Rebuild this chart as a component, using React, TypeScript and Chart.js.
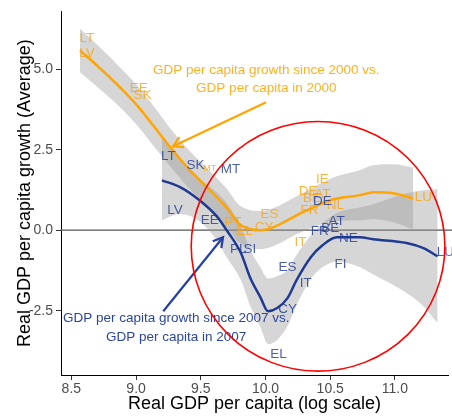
import { useEffect, useRef } from 'react';
import { Chart, registerables } from 'chart.js';

Chart.register(...registerables);

const FONT = '"Liberation Sans", Arial, sans-serif';

// smoothed fit, growth since 2000 vs GDP in 2000
const fit2000X = [8.567, 8.722, 8.876, 9.008, 9.131, 9.263, 9.417, 9.572, 9.704, 9.789, 9.859, 9.959, 10.059, 10.244, 10.368, 10.523, 10.731, 10.831, 10.986, 11.14];
const fit2000Y = [5.59, 5.03, 4.44, 3.88, 3.26, 2.58, 1.86, 1.24, 0.68, 0.22, 0.06, 0.0, 0.09, 0.47, 0.71, 0.96, 1.09, 1.18, 1.15, 0.99];
const band2000Lo = [4.91, 4.38, 3.82, 3.26, 2.64, 1.99, 1.27, 0.65, 0.09, -0.37, -0.53, -0.59, -0.5, -0.12, 0.09, 0.28, 0.31, 0.34, 0.25, 0.03];
const band2000Hi = [6.27, 5.68, 5.06, 4.5, 3.88, 3.17, 2.45, 1.83, 1.27, 0.81, 0.65, 0.59, 0.68, 1.06, 1.33, 1.64, 1.87, 2.02, 2.05, 1.95];

// smoothed fit, growth since 2007 vs GDP in 2007
const fit2007X = [9.2, 9.34, 9.49, 9.63, 9.7, 9.81, 9.88, 9.96, 10.02, 10.09, 10.17, 10.24, 10.35, 10.44, 10.55, 10.73, 10.83, 11.09, 11.22, 11.33];
const fit2007Y = [1.55, 1.34, 0.93, 0.4, 0.0, -0.71, -1.46, -2.08, -2.52, -2.42, -2.11, -1.55, -0.84, -0.47, -0.22, -0.22, -0.28, -0.4, -0.56, -0.81];
const band2007Lo = [0.31, 0.5, 0.28, -0.35, -0.84, -1.55, -2.33, -3.01, -3.54, -3.41, -2.98, -2.33, -1.52, -1.15, -0.97, -1.15, -1.37, -1.95, -2.36, -2.89];
const band2007Hi = [2.95, 2.27, 1.6, 1.15, 0.84, 0.13, -0.59, -1.15, -1.5, -1.43, -1.24, -0.77, -0.16, 0.21, 0.53, 0.71, 0.81, 1.15, 1.24, 1.27];

// country labels
const codes2000 = ['LT', 'LV', 'EE', 'SK', 'PT', 'EL', 'CY', 'ES', 'IT', 'DE', 'BE', 'AT', 'FR', 'NL', 'IE', 'LU'];
const labelX2000 = [8.62, 8.62, 9.02, 9.05, 9.75, 9.84, 9.99, 10.03, 10.27, 10.33, 10.36, 10.44, 10.34, 10.54, 10.44, 11.22];
const labelY2000 = [5.95, 5.5, 4.41, 4.19, 0.25, -0.03, 0.09, 0.5, -0.37, 1.21, 1.0, 1.12, 0.62, 0.78, 1.58, 1.02];
const tinyCode2000 = 'MT';
const tinyX2000 = 9.57;
const tinyY2000 = 1.92;

const codes2007 = ['LT', 'SK', 'MT', 'LV', 'EE', 'PL', 'SI', 'ES', 'IT', 'CY', 'EL', 'FI', 'FR', 'BE', 'AT', 'NE', 'DE', 'LU'];
const labelX2007 = [9.25, 9.46, 9.73, 9.3, 9.57, 9.79, 9.88, 10.17, 10.31, 10.17, 10.1, 10.58, 10.42, 10.5, 10.55, 10.64, 10.44, 11.39];
const labelY2007 = [2.3, 2.02, 1.9, 0.62, 0.31, -0.59, -0.59, -1.15, -1.65, -2.45, -3.85, -1.06, -0.03, 0.06, 0.28, -0.25, 0.9, -0.68];

// annotations
const note2000 = ['GDP per capita growth since 2000 vs.', 'GDP per capita in 2000'];
const note2000At = { x: 10.006, y: [4.97, 4.41] };
const arrow2000 = { from: [10.005, 3.98], to: [9.286, 2.61] };
const note2007 = ['GDP per capita growth since 2007 vs.', 'GDP per capita in 2007'];
const note2007At = { x: 9.31, y: [-2.73, -3.32] };
const arrow2007 = { from: [9.21, -2.52], to: [9.672, -0.22] };
const ring = { cx: 10.406, cy: -0.5, rx: 0.98, ry: 3.88 };

const ORANGE = '#FFA500';
const BLUE = '#1f3a93';

const pts = (xs: number[], ys: number[]) => xs.map((x, i) => ({ x, y: ys[i] }));

function arrow(ctx: CanvasRenderingContext2D, x1: number, y1: number, x2: number, y2: number, color: string) {
  ctx.strokeStyle = color;
  ctx.lineWidth = 2.2;
  ctx.lineCap = 'butt';
  ctx.beginPath();
  ctx.moveTo(x1, y1);
  ctx.lineTo(x2, y2);
  ctx.stroke();
  const a = Math.atan2(y2 - y1, x2 - x1);
  const len = 11;
  const w = Math.PI / 6;
  ctx.beginPath();
  ctx.moveTo(x2 - len * Math.cos(a - w), y2 - len * Math.sin(a - w));
  ctx.lineTo(x2, y2);
  ctx.lineTo(x2 - len * Math.cos(a + w), y2 - len * Math.sin(a + w));
  ctx.stroke();
}

const overlay = {
  id: 'overlay',
  beforeDatasetsDraw(chart: Chart) {
    const { ctx, chartArea, scales } = chart;
    const y0 = scales.y.getPixelForValue(0);
    ctx.save();
    ctx.strokeStyle = '#555';
    ctx.lineWidth = 1.2;
    ctx.beginPath();
    ctx.moveTo(chartArea.left, y0);
    ctx.lineTo(chart.width, y0);
    ctx.stroke();
    ctx.restore();
  },
  afterDatasetsDraw(chart: Chart) {
    const { ctx, scales } = chart;
    const px = (v: number) => scales.x.getPixelForValue(v);
    const py = (v: number) => scales.y.getPixelForValue(v);
    ctx.save();
    ctx.textAlign = 'center';
    ctx.textBaseline = 'middle';

    ctx.font = `13.5px ${FONT}`;
    ctx.fillStyle = 'rgba(250,165,20,0.82)';
    codes2000.forEach((c, i) => ctx.fillText(c, px(labelX2000[i]), py(labelY2000[i])));
    ctx.font = `9px ${FONT}`;
    ctx.fillText(tinyCode2000, px(tinyX2000), py(tinyY2000));

    ctx.font = `13.5px ${FONT}`;
    ctx.fillStyle = 'rgba(31,58,147,0.8)';
    codes2007.forEach((c, i) => ctx.fillText(c, px(labelX2007[i]), py(labelY2007[i])));

    ctx.fillStyle = 'rgba(255,165,0,0.88)';
    note2000.forEach((t, i) => ctx.fillText(t, px(note2000At.x), py(note2000At.y[i])));
    ctx.fillStyle = '#2b45a3';
    note2007.forEach((t, i) => ctx.fillText(t, px(note2007At.x), py(note2007At.y[i])));

    arrow(ctx, px(arrow2000.from[0]), py(arrow2000.from[1]), px(arrow2000.to[0]), py(arrow2000.to[1]), ORANGE);
    arrow(ctx, px(arrow2007.from[0]), py(arrow2007.from[1]), px(arrow2007.to[0]), py(arrow2007.to[1]), '#2540a0');

    const cx = px(ring.cx);
    const cy = py(ring.cy);
    const rx = px(ring.cx + ring.rx) - cx;
    const ry = py(ring.cy - ring.ry) - cy;
    ctx.strokeStyle = '#ff0000';
    ctx.lineWidth = 1.6;
    ctx.beginPath();
    ctx.ellipse(cx, cy, rx, ry, 0, 0, Math.PI * 2);
    ctx.stroke();
    ctx.restore();
  },
};

export default function App() {
  const canvasRef = useRef<HTMLCanvasElement>(null);

  useEffect(() => {
    if (!canvasRef.current) return;
    const line = (data: { x: number; y: number }[], color: string) => ({
      data,
      showLine: true,
      borderColor: color,
      borderWidth: 2.5,
      pointRadius: 0,
      cubicInterpolationMode: 'monotone',
      fill: false,
    });
    const band = (data: { x: number; y: number }[], fill: string | boolean) => ({
      data,
      showLine: true,
      borderWidth: 0,
      borderColor: 'rgba(0,0,0,0)',
      backgroundColor: 'rgba(153,153,153,0.4)',
      pointRadius: 0,
      cubicInterpolationMode: 'monotone',
      fill,
    });
    const tickFont = { family: FONT, size: 14 };
    const chart = new Chart(canvasRef.current, {
      type: 'scatter',
      data: {
        datasets: [
          line(pts(fit2000X, fit2000Y), ORANGE),
          line(pts(fit2007X, fit2007Y), BLUE),
          band(pts(fit2000X, band2000Hi), '+1'),
          band(pts(fit2000X, band2000Lo), false),
          band(pts(fit2007X, band2007Hi), '+1'),
          band(pts(fit2007X, band2007Lo), false),
        ] as any,
      },
      plugins: [overlay],
      options: {
        animation: false,
        responsive: true,
        maintainAspectRatio: false,
        layout: { padding: { top: 11, right: 4, left: 0, bottom: 0 } },
        plugins: { legend: { display: false }, tooltip: { enabled: false } },
        scales: {
          x: {
            type: 'linear',
            min: 8.42,
            max: 11.41,
            afterFit: (s: any) => { s.height = 41; },
            ticks: {
              stepSize: 0.5,
              includeBounds: false,
              callback: (v: any) => Number(v).toFixed(1),
              font: tickFont,
              color: '#4d4d4d',
              padding: 1,
              maxRotation: 0,
            },
            grid: { drawOnChartArea: false, drawTicks: true, tickLength: 5, color: '#333' },
            border: { color: '#000', width: 1 },
            title: {
              display: true,
              text: 'Real GDP per capita (log scale)',
              font: { family: FONT, size: 18 },
              color: '#000',
              padding: { top: 0, bottom: 1 },
            },
          },
          y: {
            type: 'linear',
            min: -4.5,
            max: 6.8,
            afterFit: (s: any) => { s.width = 61; },
            ticks: {
              stepSize: 2.5,
              includeBounds: false,
              callback: (v: any) => Number(v).toFixed(1),
              font: tickFont,
              color: '#4d4d4d',
              padding: 3,
            },
            grid: { drawOnChartArea: false, drawTicks: true, tickLength: 5, color: '#333' },
            border: { color: '#000', width: 1 },
            title: {
              display: true,
              text: 'Real GDP per capita growth (Average)',
              font: { family: FONT, size: 18 },
              color: '#000',
              padding: { top: 14, bottom: 0 },
            },
          },
        },
      } as any,
    });
    return () => { chart.destroy(); };
  }, []);

  return (
    <div style={{ position: 'fixed', left: 0, top: 0, width: 452, height: 416, background: '#fff' }}>
      <canvas ref={canvasRef} />
    </div>
  );
}
